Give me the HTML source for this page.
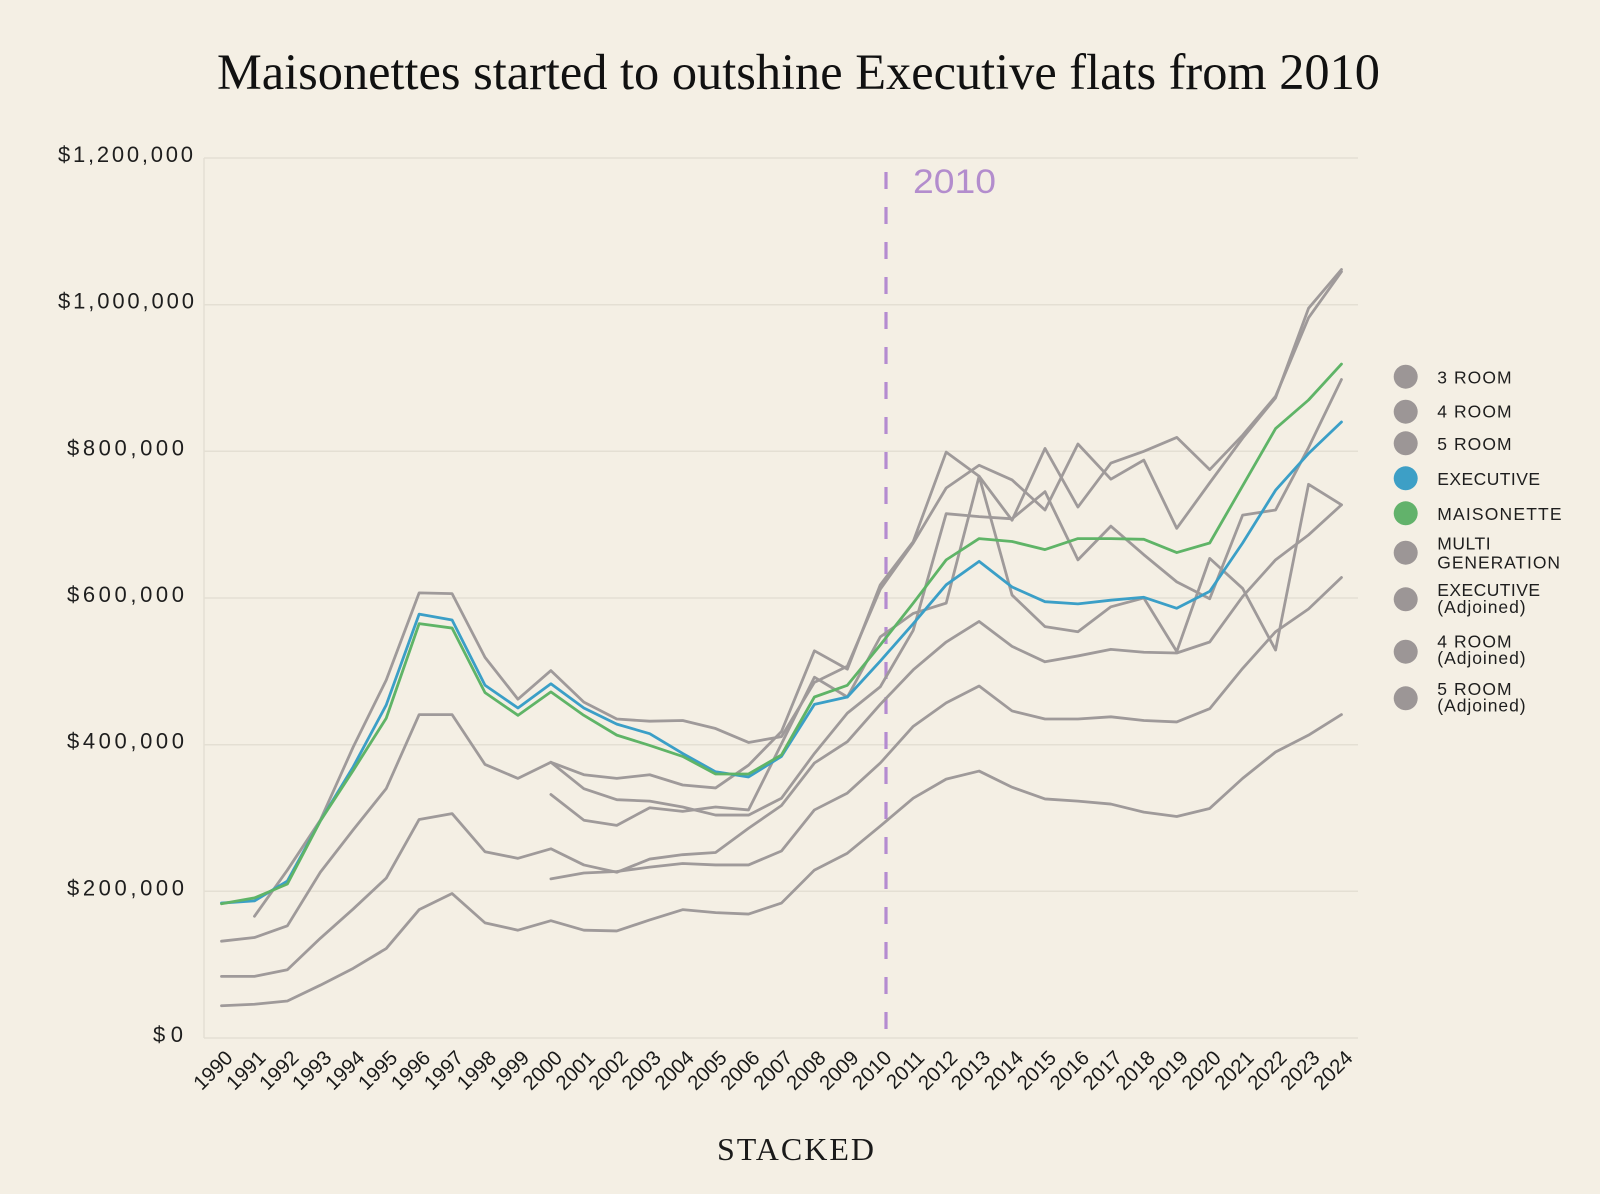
<!DOCTYPE html>
<html>
<head>
<meta charset="utf-8">
<style>
  html, body { margin: 0; padding: 0; background: #f4efe4; }
  svg { display: block; }
  .tick { font-family: "Liberation Sans", Arial, sans-serif; font-size: 20.5px; fill: #1a1a1a; }
  .ylab { font-family: "Liberation Sans", Arial, sans-serif; font-size: 22px; fill: #1e1e1e; }
  .leg { font-family: "Liberation Sans", Arial, sans-serif; font-size: 17.5px; fill: #1e1e1e; }
</style>
</head>
<body>
<svg width="1600" height="1194" viewBox="0 0 1600 1194" xmlns="http://www.w3.org/2000/svg">
  <rect x="0" y="0" width="1600" height="1194" fill="#f4efe4"/>

  <!-- Title -->
  <text x="217" y="89" font-family="Liberation Serif, serif" font-size="51" fill="#111" textLength="1163" lengthAdjust="spacingAndGlyphs">Maisonettes started to outshine Executive flats from 2010</text>

  <!-- Gridlines -->
  <g stroke="#e4dfd3" stroke-width="1.5">
    <line x1="204" y1="158" x2="1358" y2="158"/>
    <line x1="204" y1="304.7" x2="1358" y2="304.7"/>
    <line x1="204" y1="451.3" x2="1358" y2="451.3"/>
    <line x1="204" y1="598" x2="1358" y2="598"/>
    <line x1="204" y1="744.7" x2="1358" y2="744.7"/>
    <line x1="204" y1="891.3" x2="1358" y2="891.3"/>
    <line x1="204" y1="1038" x2="1358" y2="1038"/>
    <line x1="204" y1="158" x2="204" y2="1038"/>
  </g>

  <!-- Y labels -->
  <text class="ylab" x="58" y="162" textLength="135" lengthAdjust="spacing">$1,200,000</text>
  <text class="ylab" x="58" y="308.7" textLength="136" lengthAdjust="spacing">$1,000,000</text>
  <text class="ylab" x="67" y="455.3" textLength="117" lengthAdjust="spacing">$800,000</text>
  <text class="ylab" x="67" y="602" textLength="117" lengthAdjust="spacing">$600,000</text>
  <text class="ylab" x="67" y="748.7" textLength="117" lengthAdjust="spacing">$400,000</text>
  <text class="ylab" x="67" y="895.3" textLength="117" lengthAdjust="spacing">$200,000</text>
  <text class="ylab" x="153" y="1042" textLength="30" lengthAdjust="spacing">$0</text>

  <!-- 2010 dashed marker -->
  <line x1="886" y1="172" x2="886" y2="1030" stroke="#b48bd0" stroke-width="3.2" stroke-dasharray="17 18"/>
  <text x="913" y="193" font-family="Liberation Sans, Arial, sans-serif" font-size="34" fill="#b38dcd" textLength="83" lengthAdjust="spacingAndGlyphs">2010</text>

  <!-- Series -->
  <g transform="translate(221.5 1038) scale(32.94 -0.73333)" fill="none" stroke-linejoin="round" stroke-linecap="round">
    <g stroke="#9f9a9a">
      <polyline vector-effect="non-scaling-stroke" stroke-width="2.8" points="0,44 1,46 2,50.5 3,72 4,95 5,122 6,175 7,197 8,157 9,147 10,160 11,147 12,146 13,161 14,175 15,171 16,169 17,184 18,229 19,252 20,289 21,327 22,353 23,364 24,342 25,326 26,323 27,319 28,308 29,302 30,313 31,354 32,390 33,413 34,441"/>
      <polyline vector-effect="non-scaling-stroke" stroke-width="2.8" points="0,84 1,84 2,93 3,136 4,176 5,218 6,298 7,306 8,254 9,245 10,258 11,236 12,226 13,244 14,250 15,253 16,286 17,317 18,375 19,404 20,455 21,502 22,540 23,568 24,534 25,513 26,521 27,530 28,526 29,525 30,540 31,602 32,652 33,686 34,727"/>
      <polyline vector-effect="non-scaling-stroke" stroke-width="2.8" points="10,217 11,225 12,227 13,233 14,238 15,236 16,236 17,255 18,311 19,334 20,375 21,425 22,457 23,480 24,446 25,435 26,435 27,438 28,433 29,431 30,449 31,504 32,554 33,585 34,628"/>
      <polyline vector-effect="non-scaling-stroke" stroke-width="2.8" points="10,376 11,340 12,325 13,323 14,315 15,304 16,304 17,327 18,388 19,443 20,479 21,556 22,715 23,711 24,708 25,745 26,652 27,698 28,659 29,622 30,599 31,713 32,720 33,805 34,898"/>
      <polyline vector-effect="non-scaling-stroke" stroke-width="2.8" points="10,332 11,297 12,290 13,314 14,309 15,315 16,311 17,401 18,492 19,465 20,547 21,579 22,593 23,766 24,604 25,561 26,554 27,588 28,600 29,527 30,654 31,613 32,529 33,755 34,727"/>
      <polyline vector-effect="non-scaling-stroke" stroke-width="2.8" points="0,132 1,137 2,153 3,226 4,284 5,340 6,441 7,441 8,373 9,354 10,376 11,359 12,354 13,359 14,345 15,341 16,372 17,418 18,528 19,503 20,618 21,677 22,799 23,766 24,706 25,804 26,724 27,784 28,800 29,819 30,775 31,822 32,875 33,982 34,1045"/>
      <polyline vector-effect="non-scaling-stroke" stroke-width="2.8" points="1,166 2,229 3,297 4,397 5,488 6,607 7,606 8,519 9,462 10,501 11,458 12,435 13,432 14,433 15,422 16,403 17,411 18,485 19,507 20,612 21,675 22,750 23,781 24,761 25,720 26,810 27,762 28,788 29,695 30,757 31,818 32,873 33,995 34,1048"/>
    </g>
    <polyline vector-effect="non-scaling-stroke" stroke="#3b9fc7" stroke-width="2.8" points="0,184 1,187 2,214 3,296 4,370 5,454 6,578 7,570 8,481 9,450 10,483 11,450 12,428 13,415 14,388 15,363 16,356 17,384 18,455 19,465 20,514 21,565 22,618 23,650 24,615 25,595 26,592 27,597 28,601 29,586 30,609 31,675 32,747 33,797 34,840"/>
    <polyline vector-effect="non-scaling-stroke" stroke="#5fb467" stroke-width="2.8" points="0,183 1,191 2,210 3,296 4,365 5,436 6,565 7,559 8,471 9,440 10,472 11,440 12,413 13,399 14,384 15,360 16,360 17,386 18,465 19,481 20,536 21,593 22,652 23,681 24,677 25,666 26,681 27,681 28,680 29,662 30,675 31,753 32,831 33,870 34,919"/>
  </g>

  <!-- X tick labels -->
  <g class="tick" text-anchor="end">
    <text transform="translate(234 1059) rotate(-45)">1990</text>
    <text transform="translate(266.9 1059) rotate(-45)">1991</text>
    <text transform="translate(299.9 1059) rotate(-45)">1992</text>
    <text transform="translate(332.8 1059) rotate(-45)">1993</text>
    <text transform="translate(365.8 1059) rotate(-45)">1994</text>
    <text transform="translate(398.7 1059) rotate(-45)">1995</text>
    <text transform="translate(431.6 1059) rotate(-45)">1996</text>
    <text transform="translate(464.6 1059) rotate(-45)">1997</text>
    <text transform="translate(497.5 1059) rotate(-45)">1998</text>
    <text transform="translate(530.5 1059) rotate(-45)">1999</text>
    <text transform="translate(563.4 1059) rotate(-45)">2000</text>
    <text transform="translate(596.3 1059) rotate(-45)">2001</text>
    <text transform="translate(629.3 1059) rotate(-45)">2002</text>
    <text transform="translate(662.2 1059) rotate(-45)">2003</text>
    <text transform="translate(695.2 1059) rotate(-45)">2004</text>
    <text transform="translate(728.1 1059) rotate(-45)">2005</text>
    <text transform="translate(761 1059) rotate(-45)">2006</text>
    <text transform="translate(794 1059) rotate(-45)">2007</text>
    <text transform="translate(826.9 1059) rotate(-45)">2008</text>
    <text transform="translate(859.9 1059) rotate(-45)">2009</text>
    <text transform="translate(892.8 1059) rotate(-45)">2010</text>
    <text transform="translate(925.7 1059) rotate(-45)">2011</text>
    <text transform="translate(958.7 1059) rotate(-45)">2012</text>
    <text transform="translate(991.6 1059) rotate(-45)">2013</text>
    <text transform="translate(1024.6 1059) rotate(-45)">2014</text>
    <text transform="translate(1057.5 1059) rotate(-45)">2015</text>
    <text transform="translate(1090.4 1059) rotate(-45)">2016</text>
    <text transform="translate(1123.4 1059) rotate(-45)">2017</text>
    <text transform="translate(1156.3 1059) rotate(-45)">2018</text>
    <text transform="translate(1189.3 1059) rotate(-45)">2019</text>
    <text transform="translate(1222.2 1059) rotate(-45)">2020</text>
    <text transform="translate(1255.1 1059) rotate(-45)">2021</text>
    <text transform="translate(1288.1 1059) rotate(-45)">2022</text>
    <text transform="translate(1321 1059) rotate(-45)">2023</text>
    <text transform="translate(1354 1059) rotate(-45)">2024</text>
  </g>

  <!-- Legend -->
  <g>
    <circle cx="1405.7" cy="376.7" r="12" fill="#9c9696"/>
    <circle cx="1405.7" cy="411.7" r="12" fill="#9c9696"/>
    <circle cx="1405.7" cy="443.3" r="12" fill="#9c9696"/>
    <circle cx="1405.7" cy="478.3" r="12" fill="#3d9fc6"/>
    <circle cx="1405.7" cy="513.3" r="12" fill="#62b26b"/>
    <circle cx="1405.7" cy="552.7" r="12" fill="#9c9696"/>
    <circle cx="1405.7" cy="599.3" r="12" fill="#9c9696"/>
    <circle cx="1405.7" cy="651.7" r="12" fill="#9c9696"/>
    <circle cx="1405.7" cy="698.3" r="12" fill="#9c9696"/>
  </g>
  <g class="leg">
    <text x="1437.3" y="383.3" textLength="74.3" lengthAdjust="spacing">3 ROOM</text>
    <text x="1437.3" y="417.7" textLength="74.3" lengthAdjust="spacing">4 ROOM</text>
    <text x="1437.3" y="450" textLength="74.3" lengthAdjust="spacing">5 ROOM</text>
    <text x="1437.3" y="485" textLength="102.7" lengthAdjust="spacing">EXECUTIVE</text>
    <text x="1437.3" y="520" textLength="124.3" lengthAdjust="spacing">MAISONETTE</text>
    <text x="1437.3" y="549.3" textLength="53.3" lengthAdjust="spacing">MULTI</text>
    <text x="1437.3" y="568.3" textLength="122.7" lengthAdjust="spacing">GENERATION</text>
    <text x="1437.3" y="596" textLength="102.7" lengthAdjust="spacing">EXECUTIVE</text>
    <text x="1437.3" y="613" textLength="88.3" lengthAdjust="spacing">(Adjoined)</text>
    <text x="1437.3" y="647.7" textLength="74.3" lengthAdjust="spacing">4 ROOM</text>
    <text x="1437.3" y="664" textLength="88.3" lengthAdjust="spacing">(Adjoined)</text>
    <text x="1437.3" y="695" textLength="74.3" lengthAdjust="spacing">5 ROOM</text>
    <text x="1437.3" y="711.5" textLength="88.3" lengthAdjust="spacing">(Adjoined)</text>
  </g>

  <!-- Footer -->
  <text x="717" y="1160" font-family="Liberation Serif, serif" font-size="32" fill="#1a1a1a" textLength="157" lengthAdjust="spacing">STACKED</text>
</svg>
</body>
</html>
